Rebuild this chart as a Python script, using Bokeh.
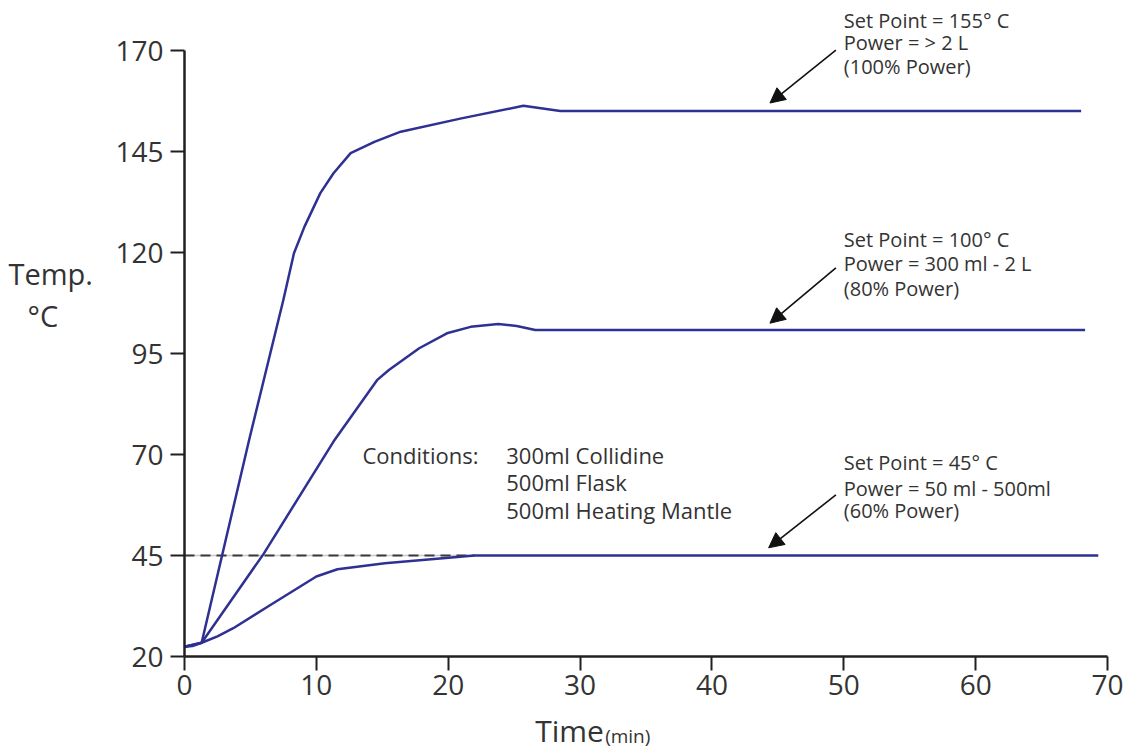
from bokeh.plotting import figure
from bokeh.models import Range1d, FixedTicker, Label, Arrow, NormalHead
from bokeh.embed import file_html
from bokeh.resources import INLINE

# ---- data ----
time_155 = [0, 1.3, 4.9, 7.5, 8.3, 9.1, 10.3, 11.3, 12.6, 14.4, 16.4, 21.0, 25.7, 28.5, 68.0]
temp_155 = [22.4, 23.4, 73.6, 108.3, 119.8, 126.4, 134.7, 139.6, 144.6, 147.4, 149.9, 153.2, 156.3, 155.0, 155.0]

time_100 = [0, 1.3, 6.0, 11.3, 14.6, 15.5, 16.4, 17.8, 19.9, 21.7, 23.8, 25.2, 26.6, 68.3]
temp_100 = [22.4, 23.4, 45.4, 73.2, 88.4, 90.9, 93.0, 96.3, 100.0, 101.6, 102.3, 101.8, 100.8, 100.8]

time_45 = [0, 0.6, 1.3, 2.5, 3.7, 6.3, 10.0, 11.6, 15.2, 22.0, 69.3]
temp_45 = [22.4, 22.6, 23.4, 25.0, 27.0, 32.3, 39.8, 41.6, 43.1, 45.0, 45.0]

ref_time = [0, 22.0]
ref_temp = [45, 45]

x_ticks = [0, 10, 20, 30, 40, 50, 60, 70]
y_ticks = [20, 45, 70, 95, 120, 145, 170]

note_155 = ["Set Point = 155\u00b0 C", "Power = > 2 L", "(100% Power)"]
note_100 = ["Set Point = 100\u00b0 C", "Power = 300 ml - 2 L", "(80% Power)"]
note_45 = ["Set Point = 45\u00b0 C", "Power = 50 ml - 500ml", "(60% Power)"]
conditions_head = "Conditions:"
conditions = ["300ml Collidine", "500ml Flask", "500ml Heating Mantle"]

FONT = "Open Sans"
TXT = "#333333"
BLUE = "#2e3192"
AXIS = "#231f20"

W, H = 1125, 753
# frame spans the whole canvas; axes are pinned at x=0 / y=20
PX_X = 13.186   # pixels per minute
PX_Y = 4.04     # pixels per degree
X0_PX, Y20_PX = 184, 656
x_lo = -X0_PX / PX_X
x_hi = (W - X0_PX) / PX_X
y_lo = 20 - (H - Y20_PX) / PX_Y
y_hi = 20 + Y20_PX / PX_Y

p = figure(width=W, height=H,
           x_range=Range1d(x_lo, x_hi), y_range=Range1d(y_lo, y_hi),
           output_backend="svg", toolbar_location=None,
           min_border=0)
p.outline_line_color = None
p.grid.visible = False
p.background_fill_color = "white"
p.border_fill_color = "white"

for ax in (p.xaxis[0], p.yaxis[0]):
    ax.axis_line_color = AXIS
    ax.axis_line_width = 2.5
    ax.major_tick_line_color = AXIS
    ax.major_tick_line_width = 2
    ax.major_tick_out = 14
    ax.major_tick_in = 0
    ax.minor_tick_line_color = None
    ax.major_label_text_font = FONT
    ax.major_label_text_font_size = "28px"
    ax.major_label_text_color = TXT
p.xaxis.ticker = FixedTicker(ticks=x_ticks)
p.yaxis.ticker = FixedTicker(ticks=y_ticks)
p.xaxis.fixed_location = 20
p.yaxis.fixed_location = 0
p.xaxis.bounds = (0, 70)
p.yaxis.bounds = (20, 170)
p.xaxis.major_label_standoff = 4
p.yaxis.major_label_standoff = 7

# reference dashed line at 45
p.line(ref_time, ref_temp, line_color="#c8c8c8", line_width=1.5)
p.line(ref_time, ref_temp, line_color="#3a3a3a", line_width=2, line_dash="10 6")

for xs, ys in ((time_155, temp_155), (time_100, temp_100), (time_45, temp_45)):
    p.line(xs, ys, line_color=BLUE, line_width=2.5, line_join="round")

# arrows
for (xs, ys, xe, ye) in ((49.4, 170.1, 44.4, 157.0),
                          (49.4, 116.2, 44.4, 102.5),
                          (49.4, 60.0, 44.3, 46.9)):
    p.add_layout(Arrow(x_start=xs, y_start=ys, x_end=xe, y_end=ye,
                       line_color="#111111", line_width=1.6,
                       end=NormalHead(size=15, fill_color="#111111",
                                      line_color="#111111", line_width=1)))

def add_text(x, y, t, size, align="left", baseline="middle"):
    p.add_layout(Label(x=x, y=y, text=t, text_font=FONT, text_font_size=size,
                       text_color=TXT, text_align=align, text_baseline=baseline))

for notes, ys in ((note_155, (177.5, 171.9, 166.0)),
                  (note_100, (123.1, 117.2, 111.2)),
                  (note_45, (67.9, 61.7, 56.2))):
    for t, y in zip(notes, ys):
        add_text(50.0, y, t, "20px")

add_text(13.5, 69.9, conditions_head, "22px")
for t, y in zip(conditions, (69.9, 63.2, 56.3)):
    add_text(24.4, y, t, "22px")

# y axis title
add_text(-13.35, 114.8, "Temp.", "29px")
add_text(-11.9, 104.4, "\u00b0C", "29px")

# x axis title
add_text(26.6, 1.7, "Time", "30px")
add_text(31.9, 0.2, "(min)", "19px")

open("out.html", "w").write(file_html(p, INLINE))
